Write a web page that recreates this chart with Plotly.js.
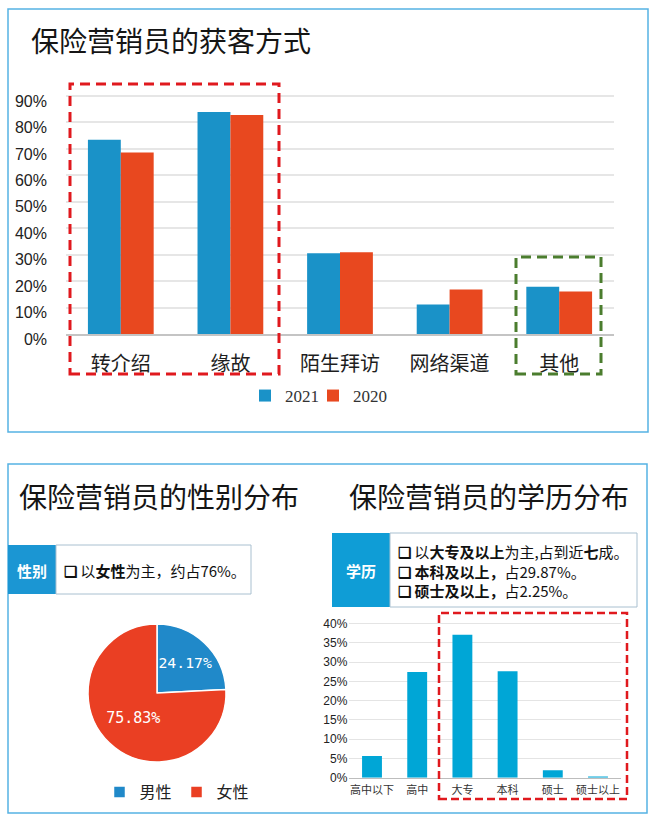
<!DOCTYPE html>
<html><head><meta charset="utf-8">
<script src="https://cdn.plot.ly/plotly-3.0.1.min.js"></script>
<style>html,body{margin:0;padding:0;background:#fff}#chart{width:655px;height:825px}</style>
</head><body><div id="chart"></div>
<script>
// ---- data ----
const channelCats = ['转介绍', '缘故', '陌生拜访', '网络渠道', '其他'];
const channel2021 = [73.5, 84.0, 30.5, 11.2, 17.9];
const channel2020 = [68.6, 82.8, 30.9, 16.8, 16.1];
const channelTickVals = [0, 10, 20, 30, 40, 50, 60, 70, 80, 90];
const channelTickText = ['0%', '10%', '20%', '30%', '40%', '50%', '60%', '70%', '80%', '90%'];
const seriesNames = ['2021', '2020'];

const genderLabels = ['男性', '女性'];
const genderValues = [24.17, 75.83];

const eduCats = ['高中以下', '高中', '大专', '本科', '硕士', '硕士以上'];
const eduValues = [5.6, 27.4, 37.1, 27.62, 1.95, 0.3];
const eduTickVals = [0, 5, 10, 15, 20, 25, 30, 35, 40];
const eduTickText = ['0%', '5%', '10%', '15%', '20%', '25%', '30%', '35%', '40%'];

// ---- helpers (pixel -> paper) ----
const W = 655, H = 825;
const px = x => x / W;
const py = y => 1 - y / H;

const CJK = 'Noto Sans CJK SC, Noto Sans, sans-serif';
const NARROW = 'Liberation Sans Narrow, Arial Narrow, Liberation Sans, Arial, sans-serif';
const SERIF = 'Liberation Serif, Times New Roman, serif';
const BLUE = '#1a92c8', RED = '#e8481f';

const traces = [
  {type: 'bar', name: seriesNames[0], x: channelCats, y: channel2021, xaxis: 'x', yaxis: 'y',
   marker: {color: BLUE}, hoverinfo: 'skip', legend: 'legend'},
  {type: 'bar', name: seriesNames[1], x: channelCats, y: channel2020, xaxis: 'x', yaxis: 'y',
   marker: {color: RED}, hoverinfo: 'skip', legend: 'legend3'},
  {type: 'pie', labels: genderLabels, values: genderValues, sort: false, direction: 'clockwise', rotation: 0,
   domain: {x: [px(88), px(226)], y: [py(762), py(624)]},
   marker: {colors: ['#2089c9', '#ea3f23'], line: {color: '#ffffff', width: 1.5}},
   textinfo: 'percent', texttemplate: '%{percent:.2%}', textposition: 'inside', insidetextorientation: 'horizontal',
   insidetextfont: {family: 'DejaVu Sans Mono, Liberation Mono, monospace', size: 15, color: '#ffffff'},
   legend: 'legend2', hoverinfo: 'skip'},
  {type: 'bar', x: eduCats, y: eduValues, xaxis: 'x2', yaxis: 'y2', marker: {color: '#00a6d6'},
   width: 0.44, showlegend: false, hoverinfo: 'skip'}
];

const shapes = [
  // outer frames
  {type: 'rect', xref: 'paper', yref: 'paper', x0: px(8), x1: px(648), y0: py(432), y1: py(9),
   line: {color: '#55b2e4', width: 1.5}, layer: 'below'},
  {type: 'rect', xref: 'paper', yref: 'paper', x0: px(8), x1: px(647), y0: py(813), y1: py(464),
   line: {color: '#55b2e4', width: 1.5}, layer: 'below'},
  // dashed highlight boxes (top)
  {type: 'rect', xref: 'paper', yref: 'paper', x0: px(70), x1: px(279), y0: py(374), y1: py(84),
   line: {color: '#e0191e', width: 3, dash: '10px,6px'}},
  {type: 'rect', xref: 'paper', yref: 'paper', x0: px(516), x1: px(601), y0: py(374), y1: py(257),
   line: {color: '#4b7d2e', width: 3, dash: '10px,6px'}},
  // dashed box bottom
  {type: 'rect', xref: 'paper', yref: 'paper', x0: px(439), x1: px(627), y0: py(799), y1: py(613),
   line: {color: '#e0191e', width: 2.5, dash: '8px,4px'}},
  // gender label box
  {type: 'rect', xref: 'paper', yref: 'paper', x0: px(8), x1: px(56), y0: py(594), y1: py(545),
   fillcolor: '#1b96d3', line: {width: 0}},
  {type: 'rect', xref: 'paper', yref: 'paper', x0: px(56), x1: px(251), y0: py(594), y1: py(545),
   fillcolor: '#ffffff', line: {color: '#a9c0d0', width: 1}},
  // education label box
  {type: 'rect', xref: 'paper', yref: 'paper', x0: px(332), x1: px(390), y0: py(607), y1: py(533),
   fillcolor: '#0f9dd6', line: {width: 0}},
  {type: 'rect', xref: 'paper', yref: 'paper', x0: px(390), x1: px(637), y0: py(607), y1: py(533),
   fillcolor: '#ffffff', line: {color: '#a9c0d0', width: 1}}
];

const titleFont = {family: CJK, size: 28, color: '#151515'};
const boxFont = {family: CJK, size: 15, color: '#111111'};
const annotations = [
  {text: '保险营销员的获客方式', xref: 'paper', yref: 'paper', x: px(29), y: py(40), xanchor: 'left', yanchor: 'middle',
   showarrow: false, font: titleFont},
  {text: '保险营销员的性别分布', xref: 'paper', yref: 'paper', x: px(17), y: py(496), xanchor: 'left', yanchor: 'middle',
   showarrow: false, font: titleFont},
  {text: '保险营销员的学历分布', xref: 'paper', yref: 'paper', x: px(347), y: py(496), xanchor: 'left', yanchor: 'middle',
   showarrow: false, font: titleFont},
  {text: '<b>性别</b>', xref: 'paper', yref: 'paper', x: px(32), y: py(570), xanchor: 'center', yanchor: 'middle',
   showarrow: false, font: {family: CJK, size: 15, color: '#ffffff'}},
  {text: '<b>❑</b> 以<b>女性</b>为主，约占76%。', xref: 'paper', yref: 'paper', x: px(62), y: py(570), xanchor: 'left', yanchor: 'middle',
   showarrow: false, font: boxFont},
  {text: '<b>学历</b>', xref: 'paper', yref: 'paper', x: px(361), y: py(570), xanchor: 'center', yanchor: 'middle',
   showarrow: false, font: {family: CJK, size: 15, color: '#ffffff'}},
  {text: '<b>❑</b> 以<b>大专及以上</b>为主,占到近<b>七</b>成。<br><b>❑ 本科及以上，</b>占29.87%。<br><b>❑ 硕士及以上，</b>占2.25%。',
   xref: 'paper', yref: 'paper', x: px(396), y: py(571), xanchor: 'left', yanchor: 'middle', align: 'left',
   showarrow: false, font: boxFont}
];

const legendCommon = {orientation: 'h', yanchor: 'middle', xanchor: 'left', itemwidth: 30,
                      bgcolor: 'rgba(0,0,0,0)', traceorder: 'normal'};

const layout = {
  width: W, height: H, margin: {l: 0, r: 0, t: 0, b: 0},
  paper_bgcolor: '#ffffff', plot_bgcolor: 'rgba(0,0,0,0)',
  barmode: 'group', bargap: 0.4, bargroupgap: 0,
  xaxis: {domain: [px(66), px(614)], anchor: 'y', showgrid: false, showline: true, linecolor: '#c4c4c4', linewidth: 2,
          ticks: '', tickfont: {family: CJK, size: 20, color: '#1e1e1e'}, ticklabelstandoff: 11, fixedrange: true},
  yaxis: {domain: [py(334), py(94.7)], anchor: 'x', range: [0, 90.5], tickvals: channelTickVals, ticktext: channelTickText,
          showgrid: true, gridcolor: '#e6e6e6', gridwidth: 2, zeroline: false, showline: false, ticks: '',
          tickfont: {family: NARROW, size: 16, color: '#222'}, ticklabelstandoff: 18, ticklabelshift: 5, fixedrange: true},
  xaxis2: {domain: [px(349.4), px(620.6)], anchor: 'y2', showgrid: false, showline: true, linecolor: '#bdbdbd', linewidth: 1.5,
           ticks: '', tickfont: {family: CJK, size: 11, color: '#333'}, ticklabelstandoff: 2, fixedrange: true},
  yaxis2: {domain: [py(777.7), py(622)], anchor: 'x2', range: [0, 40.4], tickvals: eduTickVals, ticktext: eduTickText,
           showgrid: true, gridcolor: '#e4e4e4', gridwidth: 1, zeroline: false, showline: false, ticks: '',
           tickfont: {family: NARROW, size: 12, color: '#222'}, ticklabelstandoff: 1, fixedrange: true},
  legend: Object.assign({}, legendCommon, {x: px(245), y: py(396),
           font: {family: SERIF, size: 17, color: '#333'}}),
  legend3: Object.assign({}, legendCommon, {x: px(313), y: py(396),
           font: {family: SERIF, size: 17, color: '#333'}}),
  legend2: {orientation: 'h', x: px(177), xanchor: 'center', y: py(792), yanchor: 'middle',
            font: {family: CJK, size: 16, color: '#222'}, itemwidth: 30,
            bgcolor: 'rgba(0,0,0,0)', traceorder: 'normal'},
  shapes: shapes,
  annotations: annotations,
  showlegend: true
};

Plotly.newPlot('chart', traces, layout, {displayModeBar: false, staticPlot: true});
</script>
</body></html>
